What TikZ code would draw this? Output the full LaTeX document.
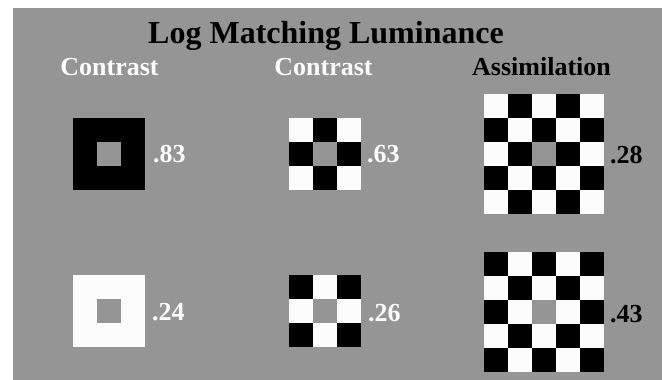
\documentclass[tikz,border=0pt]{standalone}
\usepackage{fontspec}
\setmainfont{Liberation Serif}
\usetikzlibrary{positioning}
\definecolor{bg}{HTML}{959595}
\definecolor{paper}{HTML}{FCFCFC}
\definecolor{ink}{HTML}{000000}
\tikzset{
  every node/.style={font=\bfseries\fontsize{26}{30}\selectfont,inner sep=0},
  title/.style={font=\bfseries\fontsize{32}{36}\selectfont,text=ink,anchor=base},
  head/.style={anchor=base},
  val/.style={anchor=base west},
  sq/.style={draw=none,minimum size=72pt},
  hole/.style={fill=bg,minimum size=24pt}
}
\begin{document}
\begin{tikzpicture}[x=1pt,y=-1pt]
  \path[use as bounding box] (0,0) rectangle (662,380);
  \fill[bg] (13,8) rectangle (662,380);

  \node[title] (title) at (326,43) {Log Matching Luminance};
  \node[head,text=paper] (hdA) at (109.5,75) {Contrast};
  \node[head,text=paper] (hdB) at (323.5,75) {Contrast};
  \node[head,text=ink] (hdC) at (541.5,75) {Assimilation};

  % plain surrounds
  \node[sq,fill=ink] (patA) at (109,154) {};
  \node[hole] (holeA) at (patA.center) {};
  \node[sq,fill=paper] (patD) at (109,311) {};
  \node[hole] (holeD) at (patD.center) {};

  % 3x3 and 5x5 checkerboards
  \node[sq,fill=paper] (patB) at (325,154) {};
  \node[sq,fill=paper] (patE) at (325,311) {};
  \node[sq,fill=paper,minimum size=120pt] (patC) at (544,154) {};
  \node[sq,fill=paper,minimum size=120pt] (patF) at (544,312) {};
  \foreach \i in {0,1,2} {
    \foreach \j in {0,1,2} {
      \pgfmathtruncatemacro{\p}{mod(\i+\j,2)}
      \ifnum\p=1 \fill[ink] (289+24*\i,118+24*\j) rectangle ++(24,24);
      \else \fill[ink] (289+24*\i,275+24*\j) rectangle ++(24,24); \fi
    }
  }
  \foreach \i in {0,...,4} {
    \foreach \j in {0,...,4} {
      \pgfmathtruncatemacro{\p}{mod(\i+\j,2)}
      \ifnum\p=1 \fill[ink] (484+24*\i,94+24*\j) rectangle ++(24,24);
      \else \fill[ink] (484+24*\i,252+24*\j) rectangle ++(24,24); \fi
    }
  }
  \node[hole] (holeB) at (patB.center) {};
  \node[hole] (holeE) at (patE.center) {};
  \node[hole] (holeC) at (patC.center) {};
  \node[hole] (holeF) at (patF.center) {};

  \node[val,text=paper] (vA) at (153,162) {.83};
  \node[val,text=paper] (vB) at (367,162) {.63};
  \node[val,text=ink] (vC) at (610,163) {.28};
  \node[val,text=paper] (vD) at (152,320) {.24};
  \node[val,text=paper] (vE) at (368,321) {.26};
  \node[val,text=ink] (vF) at (610,322) {.43};
\end{tikzpicture}
\end{document}
